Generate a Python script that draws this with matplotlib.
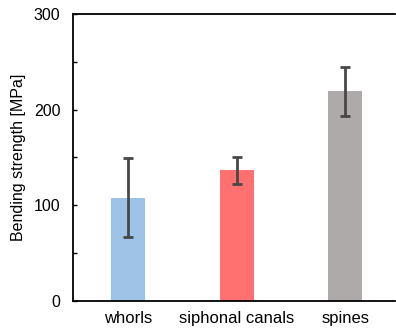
import matplotlib
matplotlib.use("Agg")
import matplotlib.pyplot as plt
from matplotlib.ticker import MultipleLocator

categories = ["whorls", "siphonal canals", "spines"]
values = [108, 136.5, 219]
errors = [41.5, 14.5, 26]
colors = ["#9DC3E6", "#FF7171", "#AEAAAA"]

plt.rcParams['font.family'] = ['Liberation Sans', 'DejaVu Sans']

fig = plt.figure(figsize=(3.96, 3.28), dpi=100)
ax = fig.add_axes([73/396, 1-301/328, (395-73)/396, (301-14)/328])
x = range(len(categories))
ax.bar(x, values, width=0.31, color=colors, zorder=2)
ax.errorbar(x, values, yerr=errors, fmt='none', ecolor='#474747', elinewidth=2,
            capsize=3.5, capthick=2, zorder=3)
ax.set_xlim(-0.51, 2.46)
ax.set_ylim(0, 300)
ax.set_xticks(list(x))
ax.set_xticklabels(categories, fontsize=12)
ax.set_yticks([0, 100, 200, 300])
ax.yaxis.set_minor_locator(MultipleLocator(50))
ax.tick_params(axis='y', which='both', direction='in', length=3, width=1, labelsize=11.5, pad=9)
ax.tick_params(axis='x', length=0, pad=7)
ax.set_ylabel("Bending strength [MPa]", fontsize=11.5, labelpad=6)
ax.yaxis.set_label_coords(-(73-19)/322, 0.5)
ax.yaxis.label.set_va('center')
for s in ['left', 'top', 'bottom']:
    ax.spines[s].set_linewidth(1.3)
ax.spines['right'].set_visible(False)
fig.savefig("out.png", dpi=100)
